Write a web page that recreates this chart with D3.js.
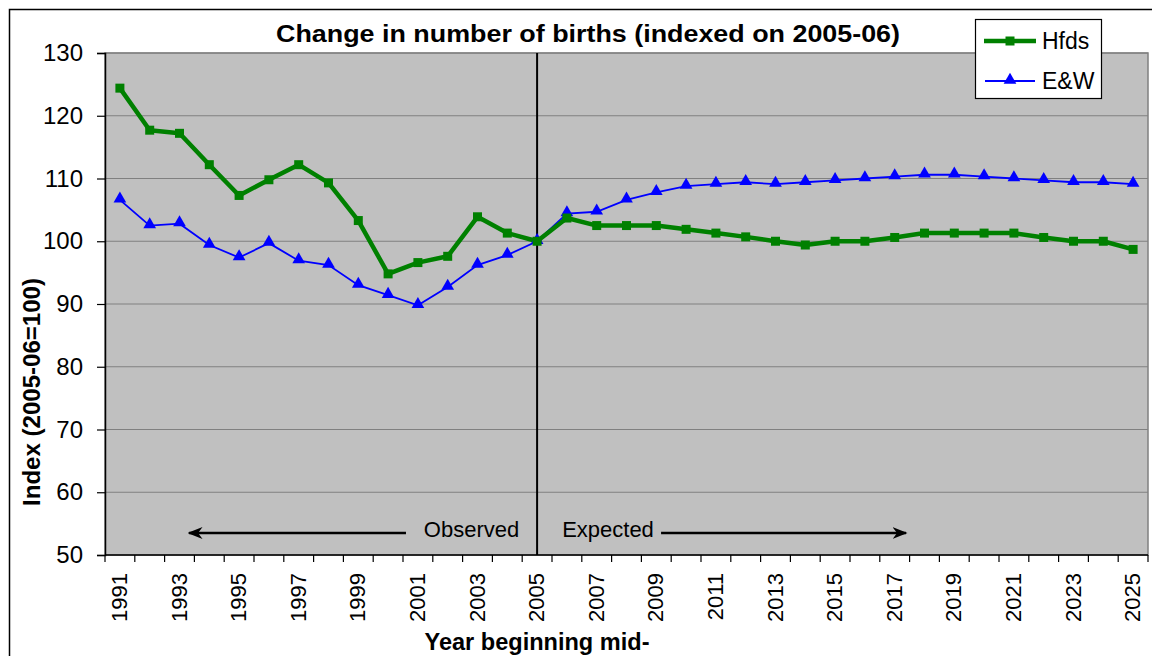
<!DOCTYPE html>
<html>
<head>
<meta charset="utf-8">
<script src="https://cdn.jsdelivr.net/npm/d3@7"></script>
<style>
 body{margin:0;background:#fff;}
 text{font-family:"Liberation Sans",Arial,sans-serif;}
</style>
</head>
<body>
<div id="container"></div>
<script>

const years = d3.range(1991, 2026).map(String);
const hfds = [124.4,117.7,117.2,112.2,107.3,109.8,112.2,109.3,103.3,94.8,96.6,97.6,103.9,101.3,100.0,
  103.7,102.5,102.5,102.5,101.9,101.3,100.7,100.0,99.4,100.0,100.0,100.6,101.3,101.3,101.3,101.3,100.6,100.0,100.0,98.7];
const ew = [106.6,102.5,102.8,99.4,97.4,99.7,96.9,96.2,93.0,91.4,89.8,92.7,96.2,97.8,100.0,
  104.4,104.7,106.6,107.8,108.8,109.1,109.4,109.1,109.4,109.7,110.0,110.3,110.6,110.6,110.3,110.0,109.7,109.4,109.4,109.1];
const yTicks = [50,60,70,80,90,100,110,120,130];
const seriesNames = ['Hfds','E&W'];
const splitYear = '2005';

const width = 1152;
const height = 656;
const plotL = 105, plotR = 1148, plotT = 53, plotB = 555;

const svg = d3.select('#container')
  .append('svg')
  .attr('width', width)
  .attr('height', height);

// outer frame
svg.append('rect')
  .attr('x', 9.5).attr('y', 9.5)
  .attr('width', 1160).attr('height', 670)
  .attr('fill', '#fff').attr('stroke', '#000').attr('stroke-width', 1.5);

const x = d3.scaleBand().domain(years).range([plotL, plotR]);
const y = d3.scaleLinear().domain([50, 130]).range([plotB, plotT]);
const xc = d => x(d) + x.bandwidth() / 2;
// fractional year position (for the annotations)
const xf = yr => plotL + x.bandwidth() * (yr - 1991 + 0.5);

svg.append('rect')
  .attr('x', plotL).attr('y', plotT)
  .attr('width', plotR - plotL).attr('height', plotB - plotT)
  .attr('fill', '#c0c0c0').attr('stroke', '#808080').attr('stroke-width', 1.5);

// gridlines
svg.append('g')
  .selectAll('line')
  .data(yTicks.slice(1))
  .enter()
  .append('line')
  .attr('x1', plotL).attr('x2', plotR)
  .attr('y1', d => y(d)).attr('y2', d => y(d))
  .attr('stroke', '#808080').attr('stroke-width', 1.2);

// y axis
const yAxis = svg.append('g')
  .attr('transform', `translate(${plotL},0)`)
  .call(d3.axisLeft(y).tickValues(yTicks).tickSize(8).tickPadding(14));
yAxis.select('.domain').attr('stroke', '#000').attr('stroke-width', 1.5);
yAxis.selectAll('text').style('font-size', '24px').attr('fill', '#000')
  .style('font-family', '"Liberation Sans",Arial,sans-serif');
yAxis.selectAll('line').attr('stroke', '#000').attr('stroke-width', 1.2);

// x axis: ticks between categories
const xAxis = svg.append('g').attr('transform', `translate(0,${plotB})`);
xAxis.append('line')
  .attr('x1', plotL).attr('x2', plotR)
  .attr('stroke', '#000').attr('stroke-width', 1.5);
xAxis.selectAll('.tk')
  .data(years.concat(['end']))
  .enter()
  .append('line')
  .attr('class', 'tk')
  .attr('x1', (d, i) => plotL + i * x.bandwidth())
  .attr('x2', (d, i) => plotL + i * x.bandwidth())
  .attr('y1', 0).attr('y2', 7)
  .attr('stroke', '#000').attr('stroke-width', 1.2);
xAxis.selectAll('.lbl')
  .data(years.filter((d, i) => i % 2 === 0))
  .enter()
  .append('text')
  .attr('class', 'lbl')
  .attr('transform', d => `translate(${xc(d) + 7},18) rotate(-90)`)
  .attr('text-anchor', 'end')
  .style('font-size', '22px')
  .text(d => d);

// 2005 divider
svg.append('line')
  .attr('x1', xc(splitYear)).attr('x2', xc(splitYear))
  .attr('y1', plotT).attr('y2', plotB)
  .attr('stroke', '#000').attr('stroke-width', 2);

// annotations
const defs = svg.append('defs');
defs.append('marker')
  .attr('id', 'arr')
  .attr('viewBox', '0 0 10 10')
  .attr('refX', 9).attr('refY', 5)
  .attr('markerWidth', 6).attr('markerHeight', 6)
  .attr('orient', 'auto')
  .append('path').attr('d', 'M0,1 L10,5 L0,9 L3,5 Z').attr('fill', '#000');

svg.append('line')
  .attr('x1', xf(2000.6)).attr('x2', xf(1993.32))
  .attr('y1', y(53.5)).attr('y2', y(53.5))
  .attr('stroke', '#000').attr('stroke-width', 2.5)
  .attr('marker-end', 'url(#arr)');
svg.append('line')
  .attr('x1', xf(2009.16)).attr('x2', xf(2017.38))
  .attr('y1', y(53.5)).attr('y2', y(53.5))
  .attr('stroke', '#000').attr('stroke-width', 2.5)
  .attr('marker-end', 'url(#arr)');
svg.append('text')
  .attr('x', xf(2004.4)).attr('y', y(52.9))
  .attr('text-anchor', 'end')
  .style('font-size', '22px')
  .text('Observed');
svg.append('text')
  .attr('x', xf(2005.84)).attr('y', y(52.9))
  .style('font-size', '22px')
  .text('Expected');

// series
const line = d3.line().x((d, i) => xc(years[i])).y(d => y(d));

svg.append('path')
  .datum(ew)
  .attr('d', line)
  .attr('fill', 'none').attr('stroke', '#0000ff').attr('stroke-width', 1.8);

svg.append('path')
  .datum(hfds)
  .attr('d', line)
  .attr('fill', 'none').attr('stroke', '#008000').attr('stroke-width', 4.5)
  .attr('stroke-linejoin', 'round');

const tri = d3.symbol().type(d3.symbolTriangle).size(70);
svg.append('g')
  .selectAll('path')
  .data(ew)
  .enter()
  .append('path')
  .attr('d', tri)
  .attr('transform', (d, i) => `translate(${xc(years[i])},${y(d) - 1})`)
  .attr('fill', '#0000ff');

svg.append('g')
  .selectAll('rect')
  .data(hfds)
  .enter()
  .append('rect')
  .attr('x', (d, i) => xc(years[i]) - 4.5)
  .attr('y', d => y(d) - 4.5)
  .attr('width', 9).attr('height', 9)
  .attr('fill', '#008000');

// titles
svg.append('text')
  .attr('x', 588).attr('y', 42)
  .attr('text-anchor', 'middle')
  .attr('textLength', 624).attr('lengthAdjust', 'spacingAndGlyphs')
  .style('font-size', '23px').style('font-weight', 'bold')
  .text('Change in number of births (indexed on 2005-06)');

svg.append('text')
  .attr('transform', 'translate(40,392) rotate(-90)')
  .attr('text-anchor', 'middle')
  .attr('textLength', 228).attr('lengthAdjust', 'spacingAndGlyphs')
  .style('font-size', '23px').style('font-weight', 'bold')
  .text('Index (2005-06=100)');

svg.append('text')
  .attr('x', 537).attr('y', 650)
  .attr('text-anchor', 'middle')
  .attr('textLength', 225).attr('lengthAdjust', 'spacingAndGlyphs')
  .style('font-size', '23px').style('font-weight', 'bold')
  .text('Year beginning mid-');

// legend
const legend = svg.append('g');
legend.append('rect')
  .attr('x', 975.5).attr('y', 19.5)
  .attr('width', 126).attr('height', 79)
  .attr('fill', '#fff').attr('stroke', '#000').attr('stroke-width', 1.2);
const legendY = [41, 81];
legend.append('line').attr('x1', 984).attr('x2', 1036).attr('y1', legendY[0]).attr('y2', legendY[0])
  .attr('stroke', '#008000').attr('stroke-width', 4.5);
legend.append('rect').attr('x', 1005.5).attr('y', legendY[0] - 4.5).attr('width', 9).attr('height', 9)
  .attr('fill', '#008000');
legend.append('line').attr('x1', 985).attr('x2', 1035).attr('y1', legendY[1]).attr('y2', legendY[1])
  .attr('stroke', '#0000ff').attr('stroke-width', 1.8);
legend.append('path').attr('d', tri).attr('transform', `translate(1010,${legendY[1] - 1})`)
  .attr('fill', '#0000ff');
legend.selectAll('.lt')
  .data(seriesNames)
  .enter()
  .append('text')
  .attr('class', 'lt')
  .attr('x', 1042)
  .attr('y', (d, i) => legendY[i] + 8)
  .style('font-size', '23px')
  .text(d => d);
</script>
</body>
</html>
